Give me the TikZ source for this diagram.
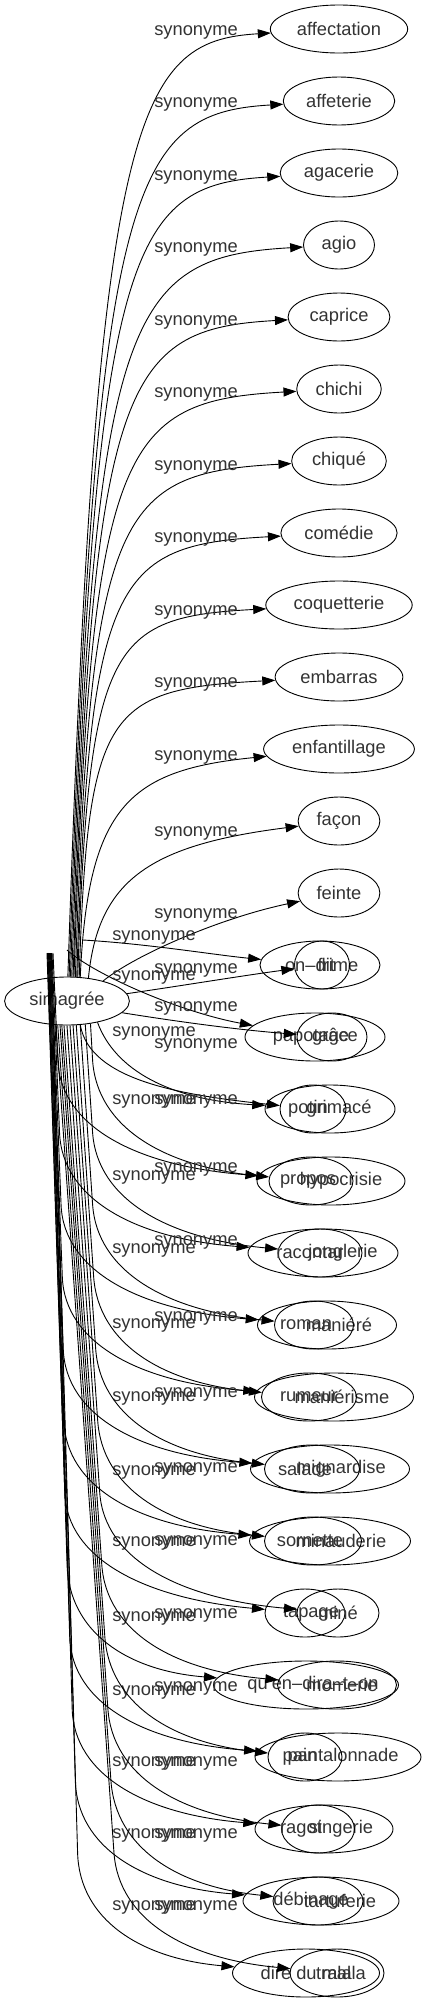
\documentclass[tikz,border=0pt]{standalone}
\usepackage{fontspec}
\setmainfont{Liberation Sans}
\usetikzlibrary{arrows.meta,shapes.geometric}
\begin{document}
\begin{tikzpicture}[x=1pt,y=-1pt,
  every node/.style={font=\fontsize{18.3}{22}\selectfont, text=black!80},
  ell/.style={draw=black, ellipse, line width=0.9pt, minimum width=71, minimum height=48, inner xsep=6.5, inner ysep=0},
  lab/.style={inner sep=0pt},
  conn/.style={draw=black, line width=0.9pt, -{Triangle[length=13pt,width=9pt]}},
]
\useasboundingbox (0,0) rectangle (426,2003);
\fill[white] (0,0) rectangle (426,2003);

\node[ell] (sim) at (67,1001) {simagrée};
\coordinate (g) at (60,950);

% upper targets
\foreach \i/\t in {0/affectation,1/affeterie,2/agacerie,3/agio,4/caprice,5/chichi,6/chiqué,7/comédie,8/coquetterie,9/embarras,10/enfantillage,11/façon,12/feinte}
  \node[ell] (t\i) at (339,{29+72*\i}) {\t};

% overlapping lower targets
\foreach \k/\Lx/\Lw/\Lt/\Ldx/\Sx/\Sw/\St/\Sdx in {
1/320/120/frime/18/322/55/on–dit/-12,
2/315/140/papotage/-4/332/70/grâce/3,
3/330/130/grimacé/9/313/66/potin/-5,
4/331/148/hypocrisie/10/311/84/propos/-3,
5/323/150/jonglerie/20/320/84/racontar/-10,
6/327/139/maniéré/12/314/79/roman/-8,
7/334/159/maniérisme/8/309/95/rumeur/0,
8/330/159/mignardise/11/312/95/salade/-7,
9/330/161/minauderie/11/313/97/sornette/-3,
10/305/80/tapage/6/338/82/miné/0,
11/306/185/qu'en–dira–t–on/7/337/119/momerie/5,
12/338/166/pantalonnade/5/305/74/pain/-5,
13/324/138/singerie/17/318/73/ragot/-17,
14/321/156/tartuferie/19/318/90/débinage/-7,
15/306/147/dire du mal/0/337/94/tralala/4}{
  \pgfmathsetmacro\yy{965+72*(\k-1)}
  \node[ell, minimum width=\Lw, label={[xshift=\Ldx]center:\Lt}] (L\k) at (\Lx,\yy) {};
  \node[ell, minimum width=\Sw, label={[xshift=\Sdx]center:\St}] (S\k) at (\Sx,\yy) {};
}

% edges to upper targets
\foreach \i/\sx/\ang/\lo in {0/68/88/3,1/69.2/85/3,2/70.4/82/4,3/71.6/79/4,4/72.8/76/5,5/74/74/5,6/75.2/71/6,7/76.4/68/6,8/77.6/66/7,9/78.8/63/7}{
  \pgfmathsetmacro\ty{29+72*\i}
  \pgfmathsetmacro\D{978-\ty}
  \pgfmathsetmacro\ax{\sx+0.03*\D}
  \pgfmathsetmacro\ay{\ty+0.08*\D+8}
  \pgfmathsetmacro\bx{\sx+0.06*\D+10}
  \pgfmathsetmacro\by{\ty+12}
  \pgfmathsetmacro\ly{\ty+\lo}
  \draw[conn] (sim.\ang) .. controls (\ax,\ay) and (\bx,\by) .. (t\i);
  \node[lab] at (196,\ly) {synonyme};
}
\draw[conn] (sim.61) .. controls (88,805) and (130,770) .. (t10);
\node[lab] at (196,757) {synonyme};
\draw[conn] (sim.47) .. controls (98,880) and (150,845) .. (t11);
\node[lab] at (196,833) {synonyme};
\draw[conn] (sim.29) .. controls (135,955) and (220,918) .. (t12);
\node[lab] at (196,915) {synonyme};

% edges to the first lower pairs
\draw[conn] ([shift={(23,-10)}]g) .. controls (150,944) and (215,955) .. (L1);
\node[lab] at (154,937) {synonyme};
\draw[conn] (sim.7) .. controls (180,986) and (240,976) .. (S1);
\node[lab] at (196,970) {synonyme};
\draw[conn] ([shift={(7,0)}]g) .. controls (95,975) and (180,1012) .. (L2);
\node[lab] at (154,977) {synonyme};
\draw[conn] (sim.-12) .. controls (180,1022) and (240,1030) .. (S2);
\node[lab] at (196,1008) {synonyme};
\draw[conn] (sim.-35) .. controls (115,1070) and (170,1100) .. (L3);
\node[lab] at (154,1033) {synonyme};
\draw[conn] (sim.-61) .. controls (90,1080) and (180,1095) .. (S3);
\node[lab] at (196,1045) {synonyme};

% edges starting above simagree
\foreach \k/\sh/\sl/\Tx/\lyy in {4/-7/0.045/257/1101,5/-8/0.042/248/1177,6/-9/0.04/257.5/1250,7/-10/0.038/254.5/1325,8/-11/0.036/250.5/1398,9/-12/0.034/249.5/1472,10/-13/0.033/265/1543,11/-12.5/0.032/213.5/1618,12/-11.5/0.031/255/1692,13/-10.5/0.03/255/1763,14/-9.5/0.03/243/1835,15/-8.5/0.029/232.5/1907}{
  \pgfmathsetmacro\ty{965+72*(\k-1)}
  \pgfmathsetmacro\sx{60+\sh}
  \pgfmathsetmacro\D{\ty-953}
  \pgfmathsetmacro\R{min(120,0.8*\D)}
  \pgfmathsetmacro\cx{\sx+\sl*(\D-\R)}
  \pgfmathsetmacro\cy{\ty-\R}
  \pgfmathsetmacro\ax{\cx+0.55*\sl*\R}
  \pgfmathsetmacro\ay{\cy+0.55*\R}
  \pgfmathsetmacro\bx{\Tx-0.6*(\Tx-\cx)}
  \pgfmathsetmacro\by{\ty-0.12*\R}
  \draw[conn] ([shift={(\sh,3)}]g) -- (\cx,\cy) .. controls (\ax,\ay) and (\bx,\by) .. (L\k);
  \node[lab] at (154,\lyy) {synonyme};
}

% edges from the bottom of simagree
\foreach \k/\ang/\sx/\sy/\Tx/\lyy in {4/-44/90/1023.3/269/1101,5/-52/85/1024/278/1169,6/-61/80/1024.5/274.5/1242,7/-69/76/1024.7/261.5/1318,8/-76/73/1024.9/264.5/1394,9/-83/70/1025/264.5/1469,10/-90/67/1025/297/1542,11/-97/64/1025/277.5/1615,12/-102/62/1025/268/1688,13/-106/60/1024.9/281.5/1763,14/-111/58/1024.6/273/1835,15/-115/56/1024.6/290/1907}{
  \pgfmathsetmacro\ty{965+72*(\k-1)}
  \pgfmathsetmacro\D{\ty-\sy}
  \pgfmathsetmacro\R{min(120,0.8*\D)}
  \pgfmathsetmacro\cx{\sx+0.07*(\D-\R)}
  \pgfmathsetmacro\cy{\ty-\R}
  \pgfmathsetmacro\ax{\cx+0.04*\R}
  \pgfmathsetmacro\ay{\cy+0.55*\R}
  \pgfmathsetmacro\bx{\Tx-0.6*(\Tx-\cx)}
  \pgfmathsetmacro\by{\ty-0.12*\R}
  \draw[conn] (sim.\ang) -- (\cx,\cy) .. controls (\ax,\ay) and (\bx,\by) .. (S\k);
  \node[lab] at (196,\lyy) {synonyme};
}
\end{tikzpicture}
\end{document}
